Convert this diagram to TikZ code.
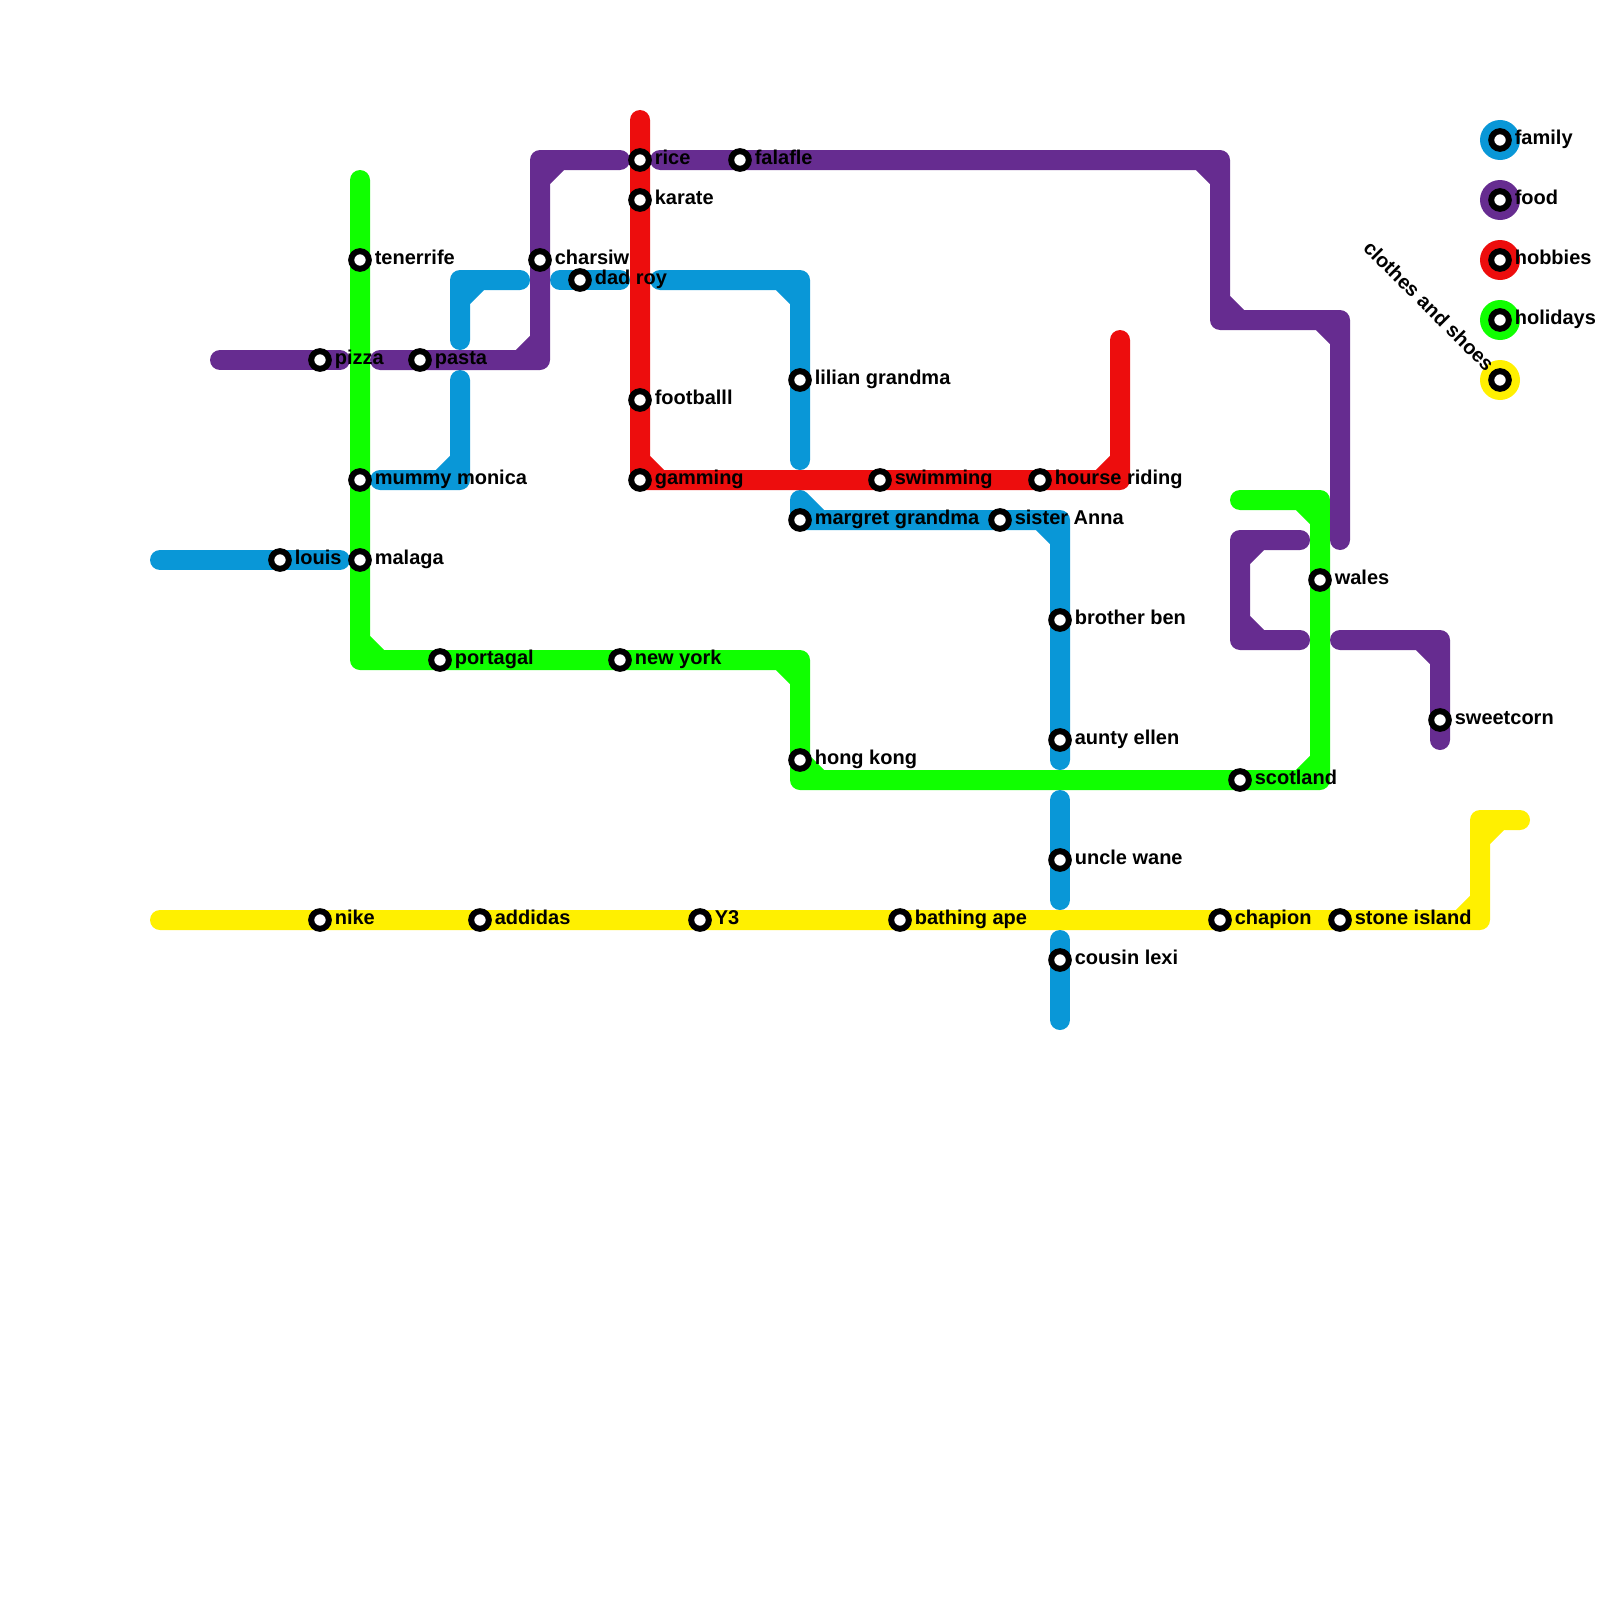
\documentclass[tikz,border=0pt]{standalone}
\usepackage{fontspec}
\setmainfont{Liberation Sans}
\usetikzlibrary{calc,backgrounds}
\definecolor{family}{RGB}{9,151,215}
\definecolor{food}{RGB}{102,44,144}
\definecolor{hobbies}{RGB}{237,13,13}
\definecolor{holidays}{RGB}{16,255,0}
\definecolor{clothes}{RGB}{255,240,0}
\tikzset{
  x=10pt,y=-10pt,
  route/.style={draw=#1,line width=10pt,line cap=round,line join=round},
  stop/.style={circle,draw=black,fill=white,line width=3pt,minimum size=8.8pt,inner sep=0pt,outer sep=0pt},
  stoplabel/.style={anchor=base west,inner sep=0pt,font=\fontsize{10}{12}\selectfont\bfseries},
  keydot/.style={circle,fill=#1,minimum size=20pt,inner sep=0pt,outer sep=0pt},
}
% inner side of a bend
\newcommand{\cutbend}[3]{($(#1)+(#2,0)$) -- ($(#1)+(0,#3)$)}
\begin{document}
\begin{tikzpicture}
  \useasboundingbox (0,0) rectangle (80,80);
  % ends and bends of the lines
  \foreach \n/\x/\y in {hA/18/9,hB/18/33,hC/40/33,hD/40/39,hE/66/39,hF/66/25,hG/62/25,
    cA/8/46,cB/74/46,cC/74/41,cD/76/41,
    fA/8/28,fB/17/28,fC/19/24,fD/23/24,fE/23/19,fF/23/17,fG/23/14,fH/26/14,fI/28/14,fJ/31/14,
    fK/33/14,fL/40/14,fM/40/23,fN/40/25,fO/40/26,fP/53/26,fQ/53/38,fR/53/40,fS/53/45,fT/53/47,fU/53/51,
    dA/11/18,dB/17/18,dC/19/18,dD/27/18,dE/27/8,dF/31/8,dG/33/8,dH/61/8,dI/61/16,dJ/67/16,dK/67/27,
    dL/65/27,dM/62/27,dN/62/32,dO/65/32,dP/67/32,dQ/72/32,dR/72/37,
    bA/32/6,bB/32/24,bC/56/24,bD/56/17}{
    \coordinate (\n) at (\x,\y);
  }
  % stations
  \foreach \n/\x/\y/\t in {tenerrife/18/13/tenerrife,mummy/18/24/mummy monica,malaga/18/28/malaga,
    portagal/22/33/portagal,newyork/31/33/new york,hongkong/40/38/hong kong,scotland/62/39/scotland,wales/66/29/wales,
    nike/16/46/nike,addidas/24/46/addidas,ythree/35/46/Y3,bathing/45/46/bathing ape,chapion/61/46/chapion,stone/67/46/stone island,
    louis/14/28/louis,dad/29/14/dad roy,lilian/40/19/lilian grandma,margret/40/26/margret grandma,sister/50/26/sister Anna,
    brother/53/31/brother ben,aunty/53/37/aunty ellen,uncle/53/43/uncle wane,cousin/53/48/cousin lexi,
    pizza/16/18/pizza,pasta/21/18/pasta,charsiw/27/13/charsiw,rice/32/8/rice,falafle/37/8/falafle,sweetcorn/72/36/sweetcorn,
    karate/32/10/karate,football/32/20/footballl,gamming/32/24/gamming,swimming/44/24/swimming,hourse/52/24/hourse riding,
    kfamily/75/7/family,kfood/75/10/food,khobbies/75/13/hobbies,kholidays/75/16/holidays}{
    \node[stop] (\n) at (\x,\y) {};
    \node[stoplabel] (\n-t) at (\x+0.72,\y+0.24) {\t};
  }
  \node[stop] (kclothes) at (75,19) {};
  \node[stoplabel,anchor=base east,rotate=-45] (kclothes-t) at (74.3,18.65) {clothes and shoes};
  \begin{scope}[on background layer]
    \draw[route=holidays] (hA) -- (tenerrife.center) -- (mummy.center) -- (malaga.center) -- (hB) -- (portagal.center) -- (newyork.center) -- (hC) -- (hongkong.center) -- (hD) -- (scotland.center) -- (hE) -- (wales.center) -- (hF) -- (hG)
      \cutbend{hB}{1}{-1} \cutbend{hC}{-1}{1} \cutbend{hD}{1}{-1} \cutbend{hE}{-1}{-1} \cutbend{hF}{-1}{1};
    \draw[route=clothes] (cA) -- (nike.center) -- (addidas.center) -- (ythree.center) -- (bathing.center) -- (chapion.center) -- (stone.center) -- (cB) -- (cC) -- (cD)
      \cutbend{cB}{-1}{-1} \cutbend{cC}{1}{1};
    \draw[route=family] (fA) -- (louis.center) -- (fB);
    \draw[route=family] (fC) -- (fD) -- (fE) \cutbend{fD}{-1}{-1};
    \draw[route=family] (fF) -- (fG) -- (fH) \cutbend{fG}{1}{1};
    \draw[route=family] (fI) -- (dad.center) -- (fJ);
    \draw[route=family] (fK) -- (fL) -- (lilian.center) -- (fM) \cutbend{fL}{-1}{1};
    \draw[route=family] (fN) -- (margret.center) -- (sister.center) -- (fP) -- (brother.center) -- (aunty.center) -- (fQ)
      \cutbend{fO}{1}{-1} \cutbend{fP}{-1}{1};
    \draw[route=family] (fR) -- (uncle.center) -- (fS);
    \draw[route=family] (fT) -- (cousin.center) -- (fU);
    \draw[route=food] (dA) -- (pizza.center) -- (dB);
    \draw[route=food] (dC) -- (pasta.center) -- (dD) -- (charsiw.center) -- (dE) -- (dF)
      \cutbend{dD}{-1}{-1} \cutbend{dE}{1}{1};
    \draw[route=food] (dG) -- (falafle.center) -- (dH) -- (dI) -- (dJ) -- (dK)
      \cutbend{dH}{-1}{1} \cutbend{dI}{1}{-1} \cutbend{dJ}{-1}{1};
    \draw[route=food] (dL) -- (dM) -- (dN) -- (dO) \cutbend{dM}{1}{1} \cutbend{dN}{1}{-1};
    \draw[route=food] (dP) -- (dQ) -- (sweetcorn.center) -- (dR) \cutbend{dQ}{-1}{1};
    \draw[route=hobbies] (bA) -- (rice.center) -- (karate.center) -- (football.center) -- (gamming.center) -- (swimming.center) -- (hourse.center) -- (bC) -- (bD)
      \cutbend{bB}{1}{-1} \cutbend{bC}{-1}{-1};
    % key
    \foreach \n/\c in {kfamily/family,kfood/food,khobbies/hobbies,kholidays/holidays,kclothes/clothes}{
      \node[keydot=\c] (\n-dot) at (\n.center) {};
    }
  \end{scope}
\end{tikzpicture}
\end{document}
